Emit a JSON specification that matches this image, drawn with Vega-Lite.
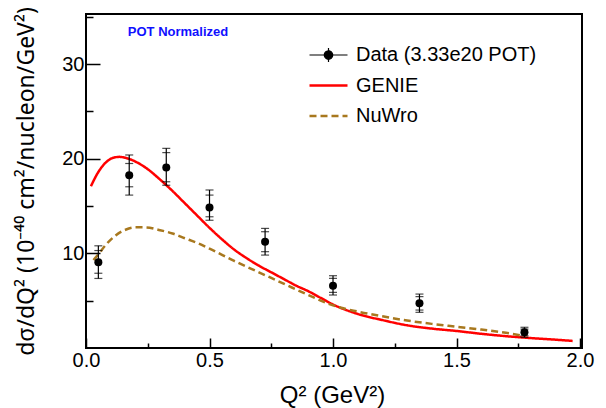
{
  "$schema": "https://vega.github.io/schema/vega-lite/v6.json",
  "width": 496,
  "height": 334,
  "autosize": {"type": "none"},
  "padding": {"left": 86, "top": 14, "right": 24, "bottom": 60},
  "background": "white",
  "config": {
    "view": {"stroke": "black", "strokeWidth": 2},
    "font": "Liberation Sans"
  },
  "datasets": {
    "models": [
      {"model": "GENIE", "x": 0.02, "y": 17.1},
      {"model": "GENIE", "x": 0.05, "y": 18.6},
      {"model": "GENIE", "x": 0.08, "y": 19.6},
      {"model": "GENIE", "x": 0.11, "y": 20.1},
      {"model": "GENIE", "x": 0.135, "y": 20.2},
      {"model": "GENIE", "x": 0.16, "y": 20.1},
      {"model": "GENIE", "x": 0.2, "y": 19.7},
      {"model": "GENIE", "x": 0.25, "y": 18.9},
      {"model": "GENIE", "x": 0.3, "y": 17.8},
      {"model": "GENIE", "x": 0.35, "y": 16.6},
      {"model": "GENIE", "x": 0.4, "y": 15.3},
      {"model": "GENIE", "x": 0.45, "y": 14.0},
      {"model": "GENIE", "x": 0.5, "y": 12.7},
      {"model": "GENIE", "x": 0.55, "y": 11.5},
      {"model": "GENIE", "x": 0.6, "y": 10.4},
      {"model": "GENIE", "x": 0.65, "y": 9.5},
      {"model": "GENIE", "x": 0.7, "y": 8.7},
      {"model": "GENIE", "x": 0.75, "y": 8.0},
      {"model": "GENIE", "x": 0.8, "y": 7.3},
      {"model": "GENIE", "x": 0.85, "y": 6.6},
      {"model": "GENIE", "x": 0.9, "y": 6.0},
      {"model": "GENIE", "x": 0.95, "y": 5.3},
      {"model": "GENIE", "x": 1.0, "y": 4.6},
      {"model": "GENIE", "x": 1.1, "y": 3.6},
      {"model": "GENIE", "x": 1.2, "y": 2.95},
      {"model": "GENIE", "x": 1.3, "y": 2.4},
      {"model": "GENIE", "x": 1.4, "y": 2.05},
      {"model": "GENIE", "x": 1.5, "y": 1.8},
      {"model": "GENIE", "x": 1.6, "y": 1.5},
      {"model": "GENIE", "x": 1.7, "y": 1.25},
      {"model": "GENIE", "x": 1.8, "y": 1.05},
      {"model": "GENIE", "x": 1.9, "y": 0.88},
      {"model": "GENIE", "x": 1.97, "y": 0.75},
      {"model": "NuWro", "x": 0.03, "y": 9.3},
      {"model": "NuWro", "x": 0.05, "y": 9.9},
      {"model": "NuWro", "x": 0.08, "y": 10.9},
      {"model": "NuWro", "x": 0.12, "y": 11.9},
      {"model": "NuWro", "x": 0.16, "y": 12.5},
      {"model": "NuWro", "x": 0.2, "y": 12.75},
      {"model": "NuWro", "x": 0.24, "y": 12.75},
      {"model": "NuWro", "x": 0.3, "y": 12.45},
      {"model": "NuWro", "x": 0.35, "y": 12.1},
      {"model": "NuWro", "x": 0.4, "y": 11.6},
      {"model": "NuWro", "x": 0.45, "y": 11.1},
      {"model": "NuWro", "x": 0.5, "y": 10.5},
      {"model": "NuWro", "x": 0.6, "y": 9.2},
      {"model": "NuWro", "x": 0.7, "y": 8.0},
      {"model": "NuWro", "x": 0.8, "y": 6.8},
      {"model": "NuWro", "x": 0.9, "y": 5.6},
      {"model": "NuWro", "x": 1.0, "y": 4.5},
      {"model": "NuWro", "x": 1.1, "y": 3.85},
      {"model": "NuWro", "x": 1.2, "y": 3.35},
      {"model": "NuWro", "x": 1.3, "y": 2.9},
      {"model": "NuWro", "x": 1.4, "y": 2.55},
      {"model": "NuWro", "x": 1.5, "y": 2.25},
      {"model": "NuWro", "x": 1.6, "y": 1.95},
      {"model": "NuWro", "x": 1.7, "y": 1.6},
      {"model": "NuWro", "x": 1.78, "y": 1.25}
    ],
    "points": [
      {"x": 0.05, "y": 9.05, "statLo": 7.9, "statHi": 10.3, "totLo": 7.35, "totHi": 10.8},
      {"x": 0.175, "y": 18.27, "statLo": 17.04, "statHi": 19.5, "totLo": 16.16, "totHi": 20.4},
      {"x": 0.325, "y": 19.08, "statLo": 17.57, "statHi": 20.65, "totLo": 17.2, "totHi": 21.1},
      {"x": 0.5, "y": 14.86, "statLo": 13.87, "statHi": 16.16, "totLo": 13.5, "totHi": 16.7},
      {"x": 0.725, "y": 11.23, "statLo": 10.18, "statHi": 12.29, "totLo": 9.82, "totHi": 12.64},
      {"x": 1.0, "y": 6.59, "statLo": 5.88, "statHi": 7.36, "totLo": 5.6, "totHi": 7.64},
      {"x": 1.35, "y": 4.72, "statLo": 4.01, "statHi": 5.43, "totLo": 3.77, "totHi": 5.7},
      {"x": 1.775, "y": 1.66, "statLo": 1.3, "statHi": 2.0, "totLo": 1.13, "totHi": 2.19}
    ],
    "note": [
      {"label": "POT Normalized"}
    ]
  },
  "layer": [
    {
      "data": {"name": "models"},
      "mark": {"type": "line", "strokeWidth": 2.5, "interpolate": "monotone", "clip": true},
      "encoding": {
        "x": {
          "field": "x", "type": "quantitative",
          "scale": {"domain": [0, 2.008], "nice": false, "zero": false},
          "axis": {
            "orient": "bottom", "values": [0, 0.5, 1, 1.5, 2], "format": ".1f",
            "domain": false, "grid": false,
            "tickSize": -10, "tickWidth": 1.5, "tickColor": "black",
            "labelFontSize": 20, "labelColor": "black", "labelFont": "Liberation Sans",
            "labelPadding": 12.5, "labelFlush": false, "labelOverlap": false,
            "title": "Q² (GeV²)", "titleFontSize": 24, "titleFontWeight": "normal",
            "titleColor": "black", "titleFont": "Liberation Sans",
            "titleX": 246, "titleY": 54, "titleAlign": "center", "titleBaseline": "alphabetic",
            "zindex": 2
          }
        },
        "y": {
          "field": "y", "type": "quantitative",
          "scale": {"domain": [0, 35.3], "nice": false, "zero": false},
          "axis": {
            "orient": "left", "values": [10, 20, 30],
            "domain": false, "grid": false,
            "tickSize": -14, "tickWidth": 1.5, "tickColor": "black",
            "labelFontSize": 20, "labelColor": "black", "labelFont": "Liberation Sans",
            "labelPadding": 16, "labelFlush": false, "labelOverlap": false,
            "title": "dσ/dQ² (10⁻⁴⁰ cm²/nucleon/GeV²)", "titleFontSize": 23, "titleFontWeight": "normal",
            "titleColor": "black", "titleFont": "Noto Sans",
            "titleX": -53, "titleY": 167, "titleAngle": -90, "titleAlign": "center", "titleBaseline": "alphabetic",
            "zindex": 2
          }
        },
        "color": {
          "field": "model", "type": "nominal",
          "scale": {"domain": ["Data (3.33e20 POT)", "GENIE", "NuWro"], "range": ["black", "#ff0000", "#a8781e"]},
          "legend": {
            "orient": "none", "legendX": 232.5, "legendY": 31, "padding": 0,
            "title": null, "symbolSize": 1444, "rowPadding": 10.5,
            "labelOffset": 17.5, "labelFontSize": 20, "labelColor": "black", "labelFont": "Liberation Sans",
            "labelLimit": 300,
            "encode": {
              "symbols": {
                "update": {
                  "size": {"value": 1444},
                  "shape": {"signal": "datum.value === 'Data (3.33e20 POT)' ? 'M-1,0H1M0,-0.37V0.37M0.22,0A0.22,0.22,0,1,1,-0.22,0A0.22,0.22,0,1,1,0.22,0Z' : 'M-1,0H1'"},
                  "fill": {"signal": "datum.value === 'Data (3.33e20 POT)' ? 'black' : 'transparent'"},
                  "strokeWidth": {"signal": "datum.value === 'Data (3.33e20 POT)' ? 1.2 : 2.5"},
                  "strokeDash": {"signal": "datum.value === 'NuWro' ? [6, 4] : [1, 0]"},
                  "opacity": {"value": 1}
                }
              }
            }
          }
        },
        "strokeDash": {
          "field": "model", "type": "nominal",
          "scale": {"domain": ["Data (3.33e20 POT)", "GENIE", "NuWro"], "range": [[1, 0], [1, 0], [7, 4]]},
          "legend": null
        }
      }
    },
    {
      "data": {"name": "points"},
      "mark": {"type": "rule", "color": "black", "strokeWidth": 1.2},
      "encoding": {
        "x": {
          "field": "x", "type": "quantitative",
          "axis": {
            "orient": "bottom", "values": [0.25, 0.75, 1.25, 1.75],
            "domain": false, "grid": false, "labels": false, "title": null,
            "tickSize": -5, "tickWidth": 1.5, "tickColor": "black", "zindex": 2
          }
        },
        "y": {
          "field": "totLo", "type": "quantitative",
          "axis": {
            "orient": "left", "values": [5, 15, 25, 35],
            "domain": false, "grid": false, "labels": false, "title": null,
            "tickSize": -7, "tickWidth": 1.5, "tickColor": "black", "zindex": 2
          }
        },
        "y2": {"field": "totHi"}
      }
    },
    {
      "data": {"name": "points"},
      "transform": [{"fold": ["totLo", "totHi", "statLo", "statHi"], "as": ["kind", "v"]}],
      "mark": {"type": "tick", "orient": "horizontal", "color": "black", "size": 8, "thickness": 1.2},
      "encoding": {
        "x": {"field": "x", "type": "quantitative", "axis": null},
        "y": {"field": "v", "type": "quantitative", "axis": null}
      }
    },
    {
      "data": {"name": "points"},
      "mark": {"type": "circle", "color": "black", "opacity": 1, "size": 64},
      "encoding": {
        "x": {"field": "x", "type": "quantitative", "axis": null},
        "y": {"field": "y", "type": "quantitative", "axis": null}
      }
    },
    {
      "data": {"name": "note"},
      "mark": {"type": "text", "font": "Liberation Sans", "fontSize": 13, "fontWeight": "bold", "color": "#1010ff", "align": "center", "baseline": "middle"},
      "encoding": {
        "x": {"datum": 0.3725, "type": "quantitative", "axis": null},
        "y": {"datum": 33.4, "type": "quantitative", "axis": null},
        "text": {"field": "label"}
      }
    }
  ],
  "resolve": {"axis": {"x": "independent", "y": "independent"}}
}
